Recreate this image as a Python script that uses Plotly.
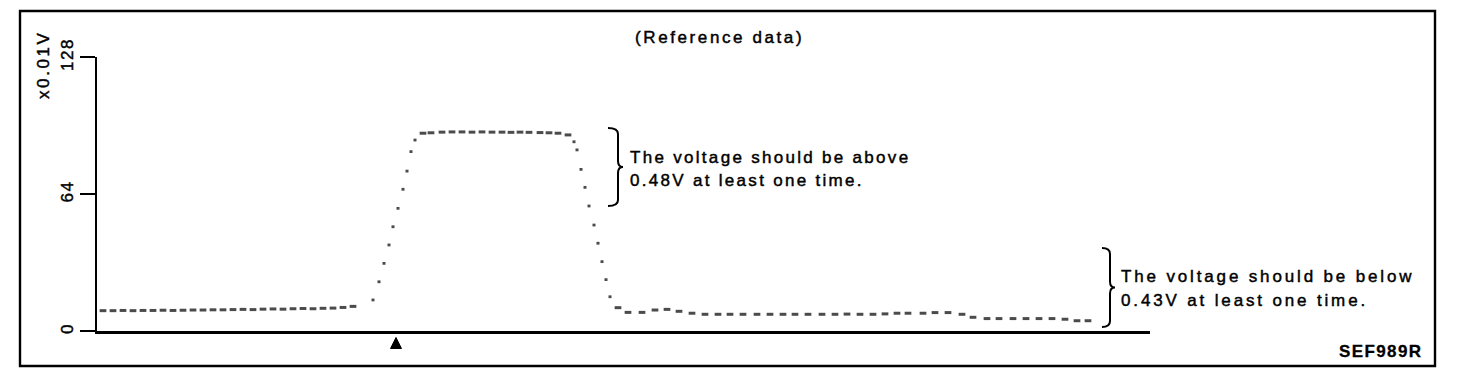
import numpy as np
import plotly.graph_objects as go

# ---------------- data ----------------
# sample times (arbitrary time units along the x axis) and sensor voltage (x0.01 V)
t_samples = [
    6, 16, 26, 36, 46, 56, 66, 76, 86, 96, 106, 116, 126, 136, 146, 156, 166, 176,
    186, 196, 206, 216, 226, 236, 246, 256,
    276, 282, 287, 292, 296, 301, 306, 310, 314, 318, 326,
    334, 345, 355, 365, 375, 385, 395, 405, 414, 423, 432, 443, 452, 461,
    471, 477, 480, 484, 488, 492, 497, 501, 505, 509, 513, 521,
    531, 545, 558, 570, 582, 595, 608, 621, 633, 646, 660, 673, 686, 698, 711,
    725, 738, 750, 763, 776, 788, 800, 811, 826, 838, 851, 865, 876, 890, 902,
    916, 929, 942, 955, 968, 980, 991,
]
v_samples = [
    9.5, 9.5, 9.6, 9.5, 9.6, 9.6, 9.7, 9.6, 9.7, 9.8, 9.8, 9.9, 9.9, 10.0, 10.1, 10.0,
    10.2, 10.3, 10.2, 10.4, 10.5, 10.4, 10.6, 10.7, 11.0, 11.5,
    14.5, 23.0, 31.6, 40.2, 48.7, 57.3, 66.2, 74.7, 83.8, 89.2, 92.4,
    92.6, 92.9, 93.0, 93.0, 92.9, 93.0, 92.9, 92.9, 92.8, 92.9, 92.8, 92.7, 92.6, 92.4,
    91.6, 88.4, 84.6, 75.5, 67.1, 58.4, 49.5, 41.0, 32.4, 24.0, 16.0, 10.9,
    8.7, 8.7, 9.8, 10.1, 9.2, 8.3, 7.8, 7.8, 7.8, 7.8, 7.8, 7.8, 7.8, 7.8, 7.8,
    7.8, 7.8, 7.9, 7.8, 7.8, 8.0, 8.3, 8.3, 8.3, 8.6, 8.6, 7.8, 6.4, 5.8, 5.8,
    5.8, 5.8, 5.8, 5.8, 5.5, 4.8, 4.8,
]
trigger_t = 299          # time of the trigger mark (triangle)
y_ticks = [0, 64, 128]
y_tick_labels = ["0", "64", "128"]
y_unit = "x0.01V"
title_text = "(Reference data)"
note_above = ["The voltage should be above", "0.48V at least one time."]
note_below = ["The voltage should be below", "0.43V at least one time."]
fig_code = "SEF989R"

# ---------------- layout geometry (pixels) ----------------
W, H = 1472, 388
L, R_EDGE, TOP, BOT = 97, 1150, 57, 331
X_RANGE = [0, R_EDGE - L]
Y_RANGE = [0, 128]
PW, PH = R_EDGE - L, BOT - TOP


def px(x):
    return (x - L) / PW


def py(y):
    return (BOT - y) / PH


FONT = "Liberation Sans, Arial, Helvetica, sans-serif"


def spaced(s, sp=3, stroke=0.45):
    return (f'<span style="letter-spacing:{sp}px;stroke:black;'
            f'stroke-width:{stroke}px">{s}</span>')


# marker style per sample: horizontal dash on flat parts, dot on steep parts
t_arr = np.array(t_samples, dtype=float)
v_arr = np.array(v_samples, dtype=float)
slope_px = np.abs(np.gradient(v_arr, t_arr)) * (PH / (Y_RANGE[1] - Y_RANGE[0]))
steep = slope_px > 1.2
symbols = np.where(steep, "line-ns", "line-ew").tolist()
sizes = np.where(steep, 2.0, 4.8).tolist()

fig = go.Figure()
fig.add_trace(go.Scatter(
    x=t_samples, y=v_samples, mode="markers",
    marker=dict(symbol=symbols, size=sizes, color="black",
                line=dict(color="black", width=3)),
    hoverinfo="skip", showlegend=False,
))

shapes = []
# outer frame
shapes.append(dict(type="rect", xref="paper", yref="paper",
                   x0=px(20), x1=px(1435), y0=py(366), y1=py(11),
                   line=dict(color="black", width=2.4)))

# trigger triangle below the time axis
shapes.append(dict(type="path", xref="x", yref="paper",
                   path=(f"M{trigger_t - 5.5},{py(348.5)} L{trigger_t + 5.5},{py(348.5)} "
                         f"L{trigger_t},{py(337.5)} Z"),
                   fillcolor="black", line=dict(color="black", width=1)))


def brace(xl, xm, xt, yt, yb, r=6):
    ym = (yt + yb) / 2
    pts = [
        f"M{px(xl)},{py(yt)}",
        f"Q{px(xm)},{py(yt)} {px(xm)},{py(yt + r)}",
        f"L{px(xm)},{py(ym - r)}",
        f"Q{px(xm)},{py(ym)} {px(xt)},{py(ym)}",
        f"Q{px(xm)},{py(ym)} {px(xm)},{py(ym + r)}",
        f"L{px(xm)},{py(yb - r)}",
        f"Q{px(xm)},{py(yb)} {px(xl)},{py(yb)}",
    ]
    return dict(type="path", xref="paper", yref="paper", path=" ".join(pts),
                line=dict(color="black", width=2))


shapes.append(brace(608, 618, 623, 128, 206))
shapes.append(brace(1102, 1110, 1115, 248, 327))

ann = []
ann.append(dict(x=px(720), y=py(37), xref="paper", yref="paper",
                text=spaced(title_text, 2.6), showarrow=False,
                xanchor="center", yanchor="middle",
                font=dict(family=FONT, size=17, color="black")))
ann.append(dict(x=px(44), y=py(65), xref="paper", yref="paper",
                text=spaced(y_unit, 2.6), showarrow=False, textangle=-90,
                xanchor="center", yanchor="middle",
                font=dict(family=FONT, size=17, color="black")))
for i, line in enumerate(note_above):
    ann.append(dict(x=px(628), y=py(157 + 23 * i), xref="paper", yref="paper",
                    text=spaced(line, 2.3), showarrow=False,
                    xanchor="left", yanchor="middle",
                    font=dict(family=FONT, size=17, color="black")))
for i, line in enumerate(note_below):
    ann.append(dict(x=px(1119), y=py(276 + 24 * i), xref="paper", yref="paper",
                    text=spaced(line, 2.85), showarrow=False,
                    xanchor="left", yanchor="middle",
                    font=dict(family=FONT, size=17, color="black")))
ann.append(dict(x=px(1425), y=py(351), xref="paper", yref="paper",
                text=f"<b>{spaced(fig_code, 1.4, 0.3)}</b>", showarrow=False,
                xanchor="right", yanchor="middle",
                font=dict(family=FONT, size=17, color="black")))

fig.update_layout(
    width=W, height=H,
    margin=dict(l=L, r=W - R_EDGE, t=TOP, b=H - BOT, pad=0),
    paper_bgcolor="white", plot_bgcolor="white",
    showlegend=False,
    shapes=shapes, annotations=ann,
    xaxis=dict(range=X_RANGE, showgrid=False, zeroline=False, showticklabels=False,
               ticks="", showline=True, linecolor="black", linewidth=3, fixedrange=True),
    yaxis=dict(range=Y_RANGE, showgrid=False, zeroline=False, showline=True,
               linecolor="black", linewidth=2.2, ticks="outside", ticklen=15,
               tickwidth=2, tickcolor="black",
               tickvals=y_ticks, ticktext=[spaced(s, 1.5) for s in y_tick_labels],
               tickangle=-90, tickfont=dict(family=FONT, size=17, color="black"),
               fixedrange=True),
)

fig.write_html("out.html")
